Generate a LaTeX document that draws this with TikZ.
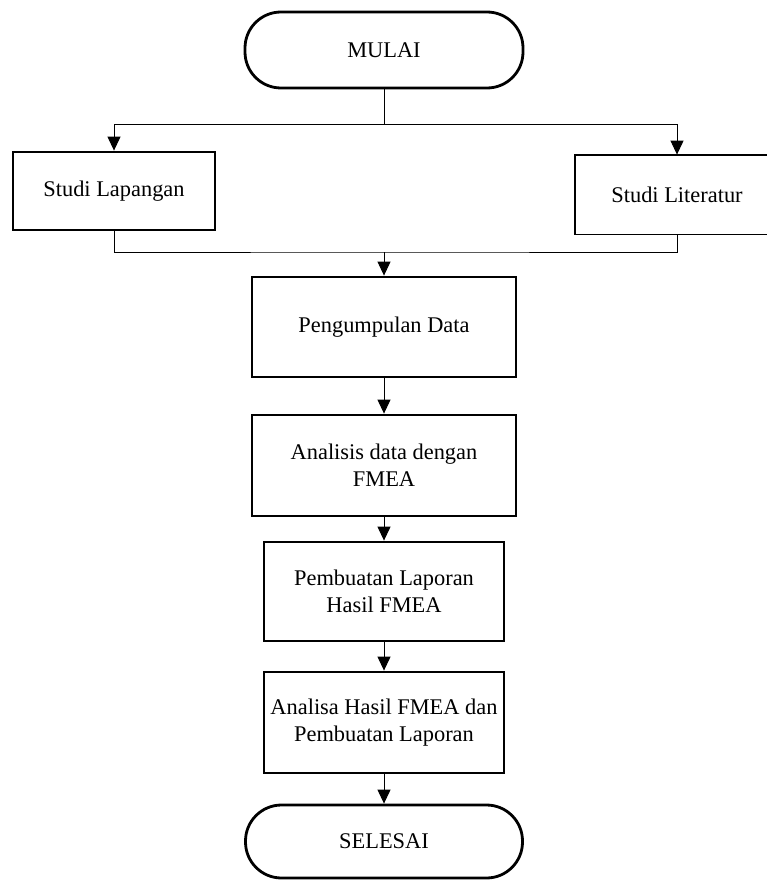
\documentclass[tikz,border=0pt]{standalone}
\usepackage{fontspec}
\setmainfont{Liberation Serif}
\usetikzlibrary{arrows.meta}
\tikzset{
  boxnode/.style={draw, line width=2.8pt, rectangle, align=center, inner sep=0pt,
    font=\fontsize{22.4}{27}\selectfont},
  termnode/.style={boxnode, rounded corners=36pt},
  conn/.style={line width=1pt},
  arr/.style={conn, -{Triangle[width=13pt,length=14pt]}},
}
\begin{document}
\begin{tikzpicture}[x=1pt,y=-1pt]
\useasboundingbox (0,0) rectangle (766,880);
\node[termnode, minimum width=278pt, minimum height=76pt] (mulai) at (384,50) {MULAI};
\node[boxnode, minimum width=202pt, minimum height=78pt] (lap) at (114,191) {Studi Lapangan};
\node[boxnode, draw=none, minimum width=202pt, minimum height=77pt] (lit) at (677,194.5) {Studi Literatur};
\draw[line width=1.8pt] (lit.north west) rectangle ([xshift=30pt]lit.south east);
\node[boxnode, minimum width=264pt, minimum height=100pt] (peng) at (384,327) {Pengumpulan Data};
\node[boxnode, minimum width=264pt, minimum height=101pt] (anal) at (384,465.5) {Analisis data dengan\\FMEA};
\node[boxnode, minimum width=240pt, minimum height=99pt] (buat) at (384,591.5) {Pembuatan Laporan\\Hasil FMEA};
\node[boxnode, minimum width=240pt, minimum height=101pt] (hasil) at (384,722.5) {Analisa Hasil FMEA dan\\Pembuatan Laporan};
\node[termnode, minimum width=277pt, minimum height=73pt] (selesai) at (384,841.5) {SELESAI};
\coordinate (j1) at (384,125);
\coordinate (j2) at (384,252);
\draw[conn] (mulai) -- (j1);
\draw[arr] (j1) -| (lap);
\draw[arr] (j1) -| (lit);
\draw[conn] (lap) |- (j2) -| (lit);
\draw[arr] (j2) -- (peng);
\draw[arr] (peng) -- (anal);
\draw[arr] (anal) -- (buat);
\draw[arr] (buat) -- (hasil);
\draw[arr] (hasil) -- (selesai);
\end{tikzpicture}
\end{document}
